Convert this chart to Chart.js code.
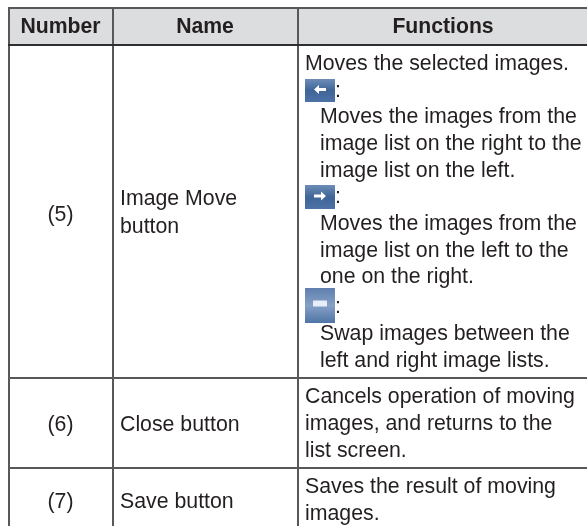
<!DOCTYPE html>
<html><head><meta charset="utf-8">
<style>html,body{margin:0;padding:0;background:#fff}canvas{display:block}</style>
<script src="https://cdn.jsdelivr.net/npm/chart.js@4"></script>
</head><body><canvas id="c" width="587" height="526"></canvas>
<script>
const headers = ["Number","Name","Functions"];
const numbers = ["(5)","(6)","(7)"];
const nameLines = [["Image Move","button"],["Close button"],["Save button"]];
const functionLines = [
  "Moves the selected images.",":","Moves the images from the","image list on the right to the","image list on the left.",
  ":","Moves the images from the","image list on the left to the","one on the right.",
  ":","Swap images between the","left and right image lists.",
  "Cancels operation of moving","images, and returns to the","list screen.",
  "Saves the result of moving","images."
];
// layout, in scale units
const colEdges=[9,113,298];
const rowEdges=[8,45,378,468];
const colCentres=[60.5,205,443];
const headerBase=33;
const numberBase=[221,431,508];
const nameBase=[[205,233],[431],[508]];
const nameX=120;
const fnBase=[70,97,123,150,177,203,230,257,283,313,340,367,403,430,457,493,520];
const fnX=[305,335,320,320,320,335,320,320,320,335,320,320,305,305,305,305,305];
const icons=[{top:79,h:23,k:'l'},{top:185,h:24,k:'r'},{top:288,h:35,k:'s'}];
const iconX=305, iconW=30;
const ink="#231f20", body='21.3px "Liberation Sans"', bold='bold 21.2px "Liberation Sans"';

const tablePlugin={id:'table',
 beforeDraw(ch){
  const {ctx,scales:{x,y}}=ch;
  ctx.save();ctx.fillStyle="#dcddde";
  const l=x.getPixelForValue(colEdges[0]),t=y.getPixelForValue(rowEdges[0]);
  ctx.fillRect(l,t,x.getPixelForValue(587)-l,y.getPixelForValue(rowEdges[1])-t);
  ctx.restore();
 },
 afterDatasetsDraw(ch){
  const {ctx,scales:{x,y}}=ch;
  const X=v=>x.getPixelForValue(v),Y=v=>y.getPixelForValue(v);
  ctx.save();ctx.textBaseline="alphabetic";ctx.fillStyle=ink;
  ctx.font=bold;ctx.textAlign="center";
  headers.forEach((h,i)=>ctx.fillText(h,X(colCentres[i]),Y(headerBase)));
  ctx.font=body;
  numbers.forEach((n,i)=>ctx.fillText(n,X(colCentres[0]),Y(numberBase[i])));
  ctx.textAlign="left";
  nameLines.forEach((ls,i)=>ls.forEach((l,j)=>ctx.fillText(l,X(nameX),Y(nameBase[i][j]))));
  functionLines.forEach((l,i)=>ctx.fillText(l,X(fnX[i]),Y(fnBase[i])));
  icons.forEach(ic=>{
   const t=Y(ic.top),b=Y(ic.top+ic.h),l=X(iconX),w=X(iconX+iconW)-l;
   const g=ctx.createLinearGradient(0,t,0,b);
   if(ic.k==='s'){g.addColorStop(0,"#5f7fae");g.addColorStop(.5,"#86a0c6");g.addColorStop(1,"#4f74a5");}
   else{g.addColorStop(0,"#6d8db8");g.addColorStop(.5,"#3f6598");g.addColorStop(1,"#4c72a6");}
   ctx.fillStyle=g;ctx.fillRect(l,t,w,b-t);
   const cx=l+w/2,cy=(t+b)/2-(ic.k==='s'?2:1);
   ctx.fillStyle="#fff";
   if(ic.k==='s'){ctx.fillStyle="#e6eef8";ctx.fillRect(cx-7,cy-3,14,6);}
   else{
    const d=ic.k==='l'?-1:1;
    ctx.beginPath();
    ctx.moveTo(cx+d*6,cy);ctx.lineTo(cx+d*1,cy-4.5);ctx.lineTo(cx+d*1,cy-1.6);ctx.lineTo(cx-d*6,cy-1.6);
    ctx.lineTo(cx-d*6,cy+1.6);ctx.lineTo(cx+d*1,cy+1.6);ctx.lineTo(cx+d*1,cy+4.5);ctx.closePath();ctx.fill();
   }
  });
  ctx.restore();
 }
};
const line="#58585a", strongLine="#2f2f30";
new Chart(document.getElementById('c'),{
 type:'scatter',
 data:{datasets:[{data:[],pointRadius:0}]},
 plugins:[tablePlugin],
 options:{
  responsive:false,animation:false,events:[],
  layout:{padding:{left:8,top:7,right:0,bottom:0}},
  plugins:{legend:{display:false},tooltip:{enabled:false},title:{display:false}},
  scales:{
   x:{type:'linear',min:8,max:587,
      afterBuildTicks:s=>{s.ticks=colEdges.map(value=>({value}));},
      ticks:{display:false,autoSkip:false},border:{display:false},
      grid:{color:line,lineWidth:2,drawTicks:false}},
   y:{type:'linear',reverse:true,min:7,max:526,
      afterBuildTicks:s=>{s.ticks=rowEdges.map(value=>({value}));},
      ticks:{display:false,autoSkip:false},border:{display:false},
      grid:{color:c=>c.tick&&c.tick.value===rowEdges[1]?strongLine:line,lineWidth:2,drawTicks:false}}
  }
 }
});
</script></body></html>
